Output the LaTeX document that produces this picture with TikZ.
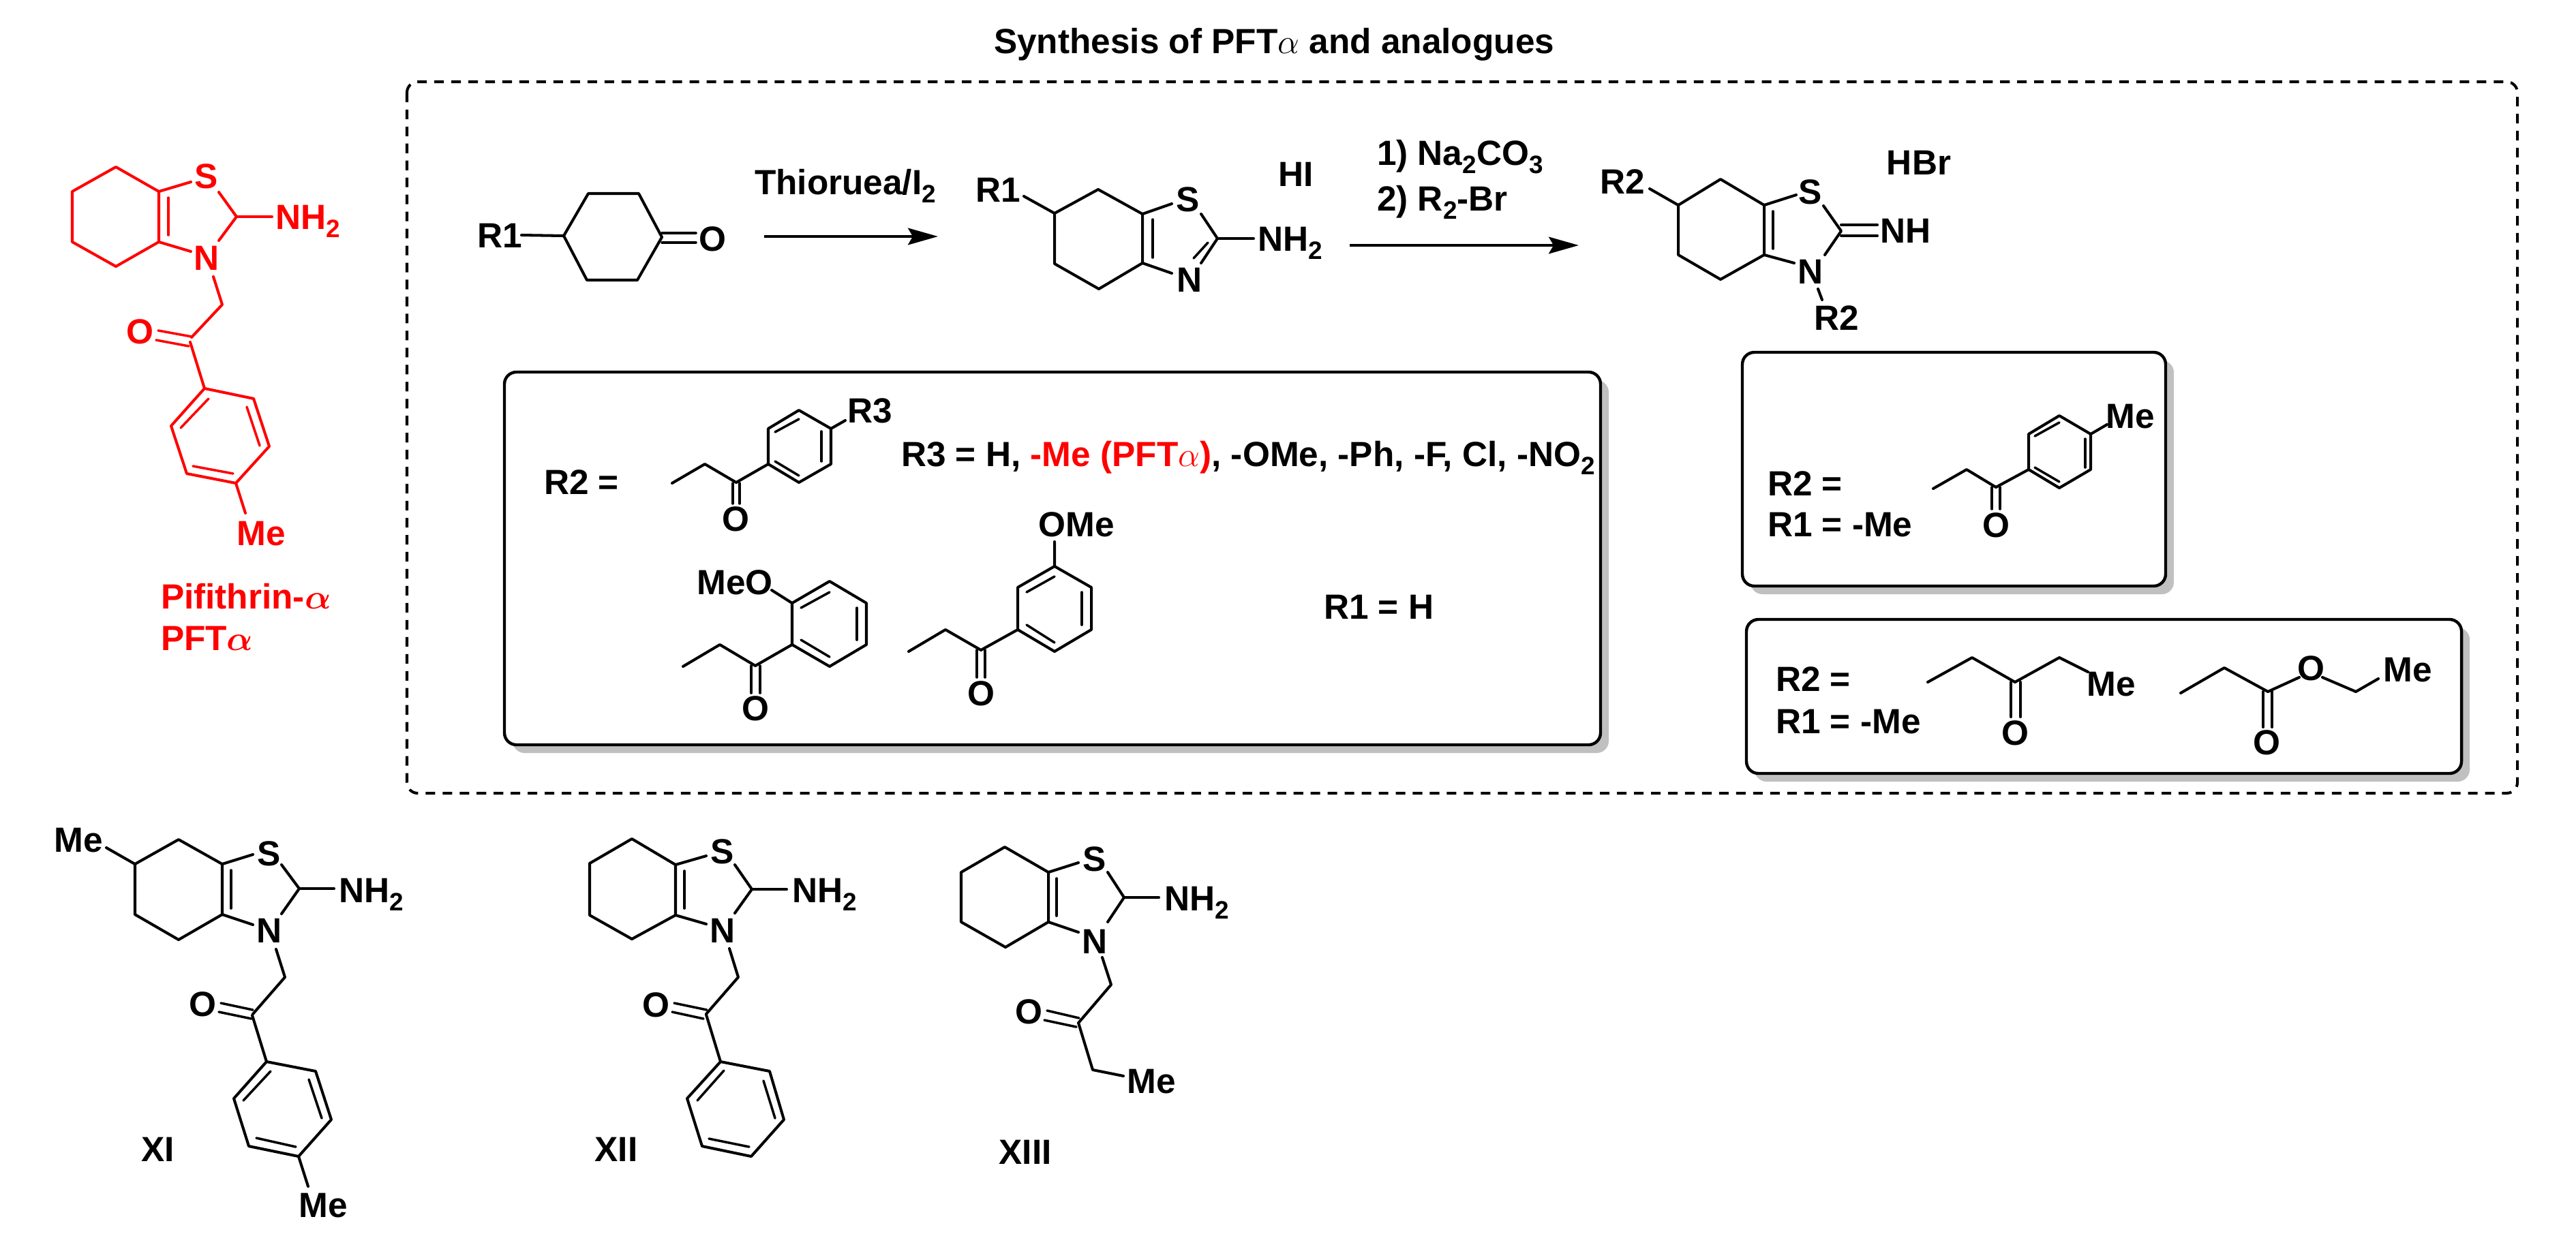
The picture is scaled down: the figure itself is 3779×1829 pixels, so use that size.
\documentclass[tikz,border=0pt]{standalone}
\usepackage{fontspec}
\setmainfont{Liberation Sans}[BoldFont={Liberation Sans Bold}]
\usetikzlibrary{arrows.meta}
\newcommand{\lowsub}[1]{\raisebox{-3.4pt}{\fontsize{10.5pt}{12pt}\selectfont #1}}
\definecolor{shadowgrey}{HTML}{C0C0C0}
\tikzset{
  bond/.style={line width=1.15pt,line join=round,line cap=round},
  inner/.style={line width=1.0pt,line cap=round},
  atom/.style={font=\fontsize{14.6pt}{17pt}\selectfont\bfseries,inner sep=0pt,outer sep=0pt,text height=10.5pt,text depth=0pt},
  lab/.style={atom,anchor=west},
  redname/.style={lab,text=red,font=\fontsize{14.6pt}{17pt}\selectfont\bfseries\boldmath},
  frame/.style={draw=black,fill=white,line width=1.25pt,rounded corners=5pt},
  shade/.style={fill=shadowgrey,rounded corners=5pt},
  rxn/.style={line width=1.2pt,-{Stealth[length=12.5pt,width=7pt,inset=2pt]}},
  dashbox/.style={draw=black,line width=1.15pt,rounded corners=4.5pt,dash pattern=on 4pt off 3.1pt},
}
\begin{document}
\begin{tikzpicture}[x=0.01cm,y=-0.01cm]
\useasboundingbox (0,0) rectangle (3779,1829);
\fill[white] (0,0) rectangle (3779,1829);

% title and dashed frame
\node[lab] (title) at (1458,60) {Synthesis of PFT$\alpha$ and analogues};
\draw[dashbox] (597,120) rectangle (3693,1164);

% boxes
\fill[shade] (752,558) rectangle (2360,1105);
\draw[frame] (740,546) rectangle (2348,1093);
\fill[shade] (2568,529) rectangle (3189,872);
\draw[frame] (2556,517) rectangle (3177,860);
\fill[shade] (2574,921) rectangle (3623,1147);
\draw[frame] (2562,909) rectangle (3611,1135);

% red molecule
\begin{scope}[red]
\draw[bond] (233,281)--(170,245)--(106,281)--(106,355)--(170,391)--(233,355)--cycle;
\draw[inner] (247,290)--(247,345);
\draw[bond] (233,281)--(280,267);
\draw[bond] (321,282)--(347,318)--(321,353);
\draw[bond] (233,355)--(280,369);
\draw[bond] (347,318)--(399,318);
\draw[bond] (313,406)--(326,447)--(281,495);
\draw[inner] (232,485)--(281,494);
\draw[inner] (229,499)--(277,508);
\draw[bond] (279,502)--(300,570);
\draw[bond] (300,570)--(372,585)--(395,655)--(346,709)--(274,695)--(251,625)--cycle;
\draw[inner] (306,585)--(265,628);
\draw[inner] (362,597)--(381,654);
\draw[inner] (283,684)--(342,695);
\draw[bond] (346,709)--(360,753);
\node[atom,text=red] (rS) at (303,258) {S};
\node[atom,text=red] (rN) at (303,378) {N};
\node[lab,text=red] (rNH) at (404,318) {NH\lowsub{2}};
\node[atom,text=red] (rO) at (205,486) {O};
\node[atom,text=red] (rMe) at (383,782) {Me};
\node[redname] (rname) at (236,875) {Pifithrin-$\alpha$};
\node[redname] (rpft) at (236,936) {PFT$\alpha$};
\end{scope}

% reaction row: cyclohexanone
\node[atom] (a1) at (733,345) {R1};
\draw[bond] (765,345)--(827,346);
\draw[bond] (827,346)--(863,284)--(937,284)--(971,348)--(935,411)--(861,411)--cycle;
\draw[inner] (971,342)--(1021,342);
\draw[inner] (971,356)--(1021,356);
\node[atom] (aO) at (1045,350) {O};
\node[lab] (thio) at (1107,267) {Thioruea/I\lowsub{2}};
\coordinate (arr1s) at (1121,347);
\coordinate (arr1e) at (1376,347);
\draw[rxn] (arr1s)--(arr1e);

% aminothiazole
\node[atom] (b1) at (1464,278) {R1};
\draw[bond] (1502,288)--(1547,313);
\draw[bond] (1547,313)--(1611,278)--(1676,314)--(1676,386)--(1612,424)--(1547,387)--cycle;
\draw[bond] (1676,314)--(1719,299);
\draw[bond] (1762,314)--(1786,350)--(1762,386);
\draw[inner] (1772,356)--(1751,379);
\draw[inner] (1691,322)--(1691,378);
\draw[bond] (1676,386)--(1719,401);
\draw[bond] (1786,350)--(1839,350);
\node[atom] (bS) at (1743,292) {S};
\node[atom] (bN) at (1745,410) {N};
\node[lab] (bNH) at (1845,350) {NH\lowsub{2}};
\node[atom] (bHI) at (1901,255) {HI};
\node[lab] (cond1) at (2020,224) {1) Na\lowsub{2}CO\lowsub{3}};
\node[lab] (cond2) at (2020,291) {2) R\lowsub{2}-Br};
\coordinate (arr2s) at (1980,360);
\coordinate (arr2e) at (2316,360);
\draw[rxn] (arr2s)--(arr2e);

% imine product
\node[atom] (c2) at (2380,266) {R2};
\draw[bond] (2420,277)--(2462,301);
\draw[bond] (2462,301)--(2524,263)--(2588,301)--(2588,374)--(2524,410)--(2462,374)--cycle;
\draw[bond] (2588,301)--(2635,286);
\draw[bond] (2675,302)--(2701,339)--(2677,374);
\draw[inner] (2601,310)--(2601,365);
\draw[bond] (2588,374)--(2632,386);
\draw[bond] (2701,330)--(2754,330);
\draw[bond] (2701,346)--(2754,346);
\draw[bond] (2667,424)--(2673,440);
\node[atom] (cS) at (2656,281) {S};
\node[atom] (cN) at (2656,398) {N};
\node[lab] (cNH) at (2758,338) {NH};
\node[atom] (cHBr) at (2815,238) {HBr};
\node[atom] (cR2) at (2694,466) {R2};

% box C
\node[lab] (cbR2) at (798,707) {R2 =};
\node[lab] (cbR3) at (1322,666) {R3 = H, {\color{red}-Me (PFT$\alpha$)}, -OMe, -Ph, -F, Cl, -NO\lowsub{2}};
\draw[bond] (986,709)--(1034,681)--(1080,708)--(1127,681)--(1127,629)--(1172,602)--(1219,629)--(1219,681)--(1172,708)--(1127,681);
\draw[bond] (1219,629)--(1240,617);
\draw[inner] (1075,709)--(1075,739);
\draw[inner] (1085,709)--(1085,739);
\draw[inner] (1137,634)--(1172,615);
\draw[inner] (1205,633)--(1205,677);
\draw[inner] (1137,677)--(1172,698);
\node[atom] (m1R3) at (1276,602) {R3};
\node[atom] (m1O) at (1079,761) {O};
% ortho-OMe
\draw[bond] (1132,866)--(1162,885);
\draw[bond] (1162,885)--(1217,853)--(1271,885)--(1271,946)--(1217,978)--(1162,946)--cycle;
\draw[bond] (1002,978)--(1056,946)--(1108,977)--(1162,946);
\draw[inner] (1175,892)--(1217,869);
\draw[inner] (1257,892)--(1257,939);
\draw[inner] (1175,939)--(1217,964);
\draw[inner] (1102,977)--(1102,1017);
\draw[inner] (1115,977)--(1115,1017);
\node[atom] (m2OMe) at (1078,854) {MeO};
\node[atom] (m2O) at (1108,1039) {O};
% meta-OMe
\draw[bond] (1547,795)--(1547,831)--(1601,862)--(1601,924)--(1547,956)--(1493,924)--(1493,862)--(1547,831);
\draw[bond] (1333,956)--(1387,924)--(1439,954)--(1493,924);
\draw[inner] (1506,869)--(1547,846);
\draw[inner] (1587,869)--(1587,917);
\draw[inner] (1506,917)--(1547,943);
\draw[inner] (1433,954)--(1433,994);
\draw[inner] (1445,954)--(1445,994);
\node[atom] (m3OMe) at (1579,769) {OMe};
\node[atom] (m3O) at (1439,1017) {O};
\node[lab] (cbR1) at (1942,890) {R1 = H};

% box A
\node[lab] (abR2) at (2593,709) {R2 =};
\node[lab] (abR1) at (2593,769) {R1 = -Me};
\draw[bond] (2836,717)--(2885,689)--(2928,715)--(2976,689)--(2976,637)--(3021,610)--(3067,637)--(3067,689)--(3021,716)--(2976,689);
\draw[bond] (3067,637)--(3091,623);
\draw[inner] (2922,715)--(2922,747);
\draw[inner] (2934,715)--(2934,747);
\draw[inner] (2985,640)--(3021,620);
\draw[inner] (3059,644)--(3059,686);
\draw[inner] (2985,686)--(3021,707);
\node[atom] (aMe) at (3125,610) {Me};
\node[atom] (aOx) at (2928,770) {O};

% box B
\node[lab] (bbR2) at (2605,996) {R2 =};
\node[lab] (bbR1) at (2605,1058) {R1 = -Me};
\draw[bond] (2828,1001)--(2893,965)--(2956,1001)--(3021,965)--(3063,986);
\draw[bond] (2950,1001)--(2950,1052);
\draw[bond] (2964,1001)--(2964,1052);
\node[atom] (kMe) at (3097,1003) {Me};
\node[atom] (kO) at (2956,1075) {O};
\draw[bond] (3199,1017)--(3263,980)--(3327,1015)--(3373,994);
\draw[bond] (3407,994)--(3456,1015)--(3489,996);
\draw[bond] (3320,1015)--(3320,1067);
\draw[bond] (3333,1015)--(3333,1067);
\node[atom] (eO1) at (3390,980) {O};
\node[atom] (eMe) at (3532,982) {Me};
\node[atom] (eO2) at (3325,1089) {O};

% XI
\draw[bond] (156,1244)--(198,1268)--(262,1232)--(326,1268)--(326,1342)--(262,1379)--(198,1342)--(198,1268);
\draw[bond] (326,1268)--(371,1254);
\draw[bond] (413,1269)--(439,1304)--(413,1341);
\draw[bond] (326,1342)--(371,1357);
\draw[inner] (339,1277)--(339,1333);
\draw[bond] (439,1304)--(490,1304);
\draw[bond] (405,1393)--(418,1434)--(371,1488);
\draw[inner] (324,1472)--(371,1482);
\draw[inner] (321,1485)--(369,1495);
\draw[bond] (370,1490)--(391,1558)--(463,1572)--(486,1643)--(438,1697)--(365,1682)--(343,1612)--(391,1558);
\draw[inner] (397,1572)--(357,1615);
\draw[inner] (453,1584)--(472,1641);
\draw[inner] (376,1670)--(434,1683);
\draw[bond] (438,1697)--(452,1741);
\node[atom] (xiMe1) at (115,1232) {Me};
\node[atom] (xiS) at (395,1252) {S};
\node[atom] (xiN) at (395,1365) {N};
\node[lab] (xiNH) at (497,1306) {NH\lowsub{2}};
\node[atom] (xiO) at (297,1473) {O};
\node[atom] (xiMe2) at (474,1768) {Me};
\node[atom] (xiL) at (232,1686) {XI};

% XII
\draw[bond] (991,1269)--(927,1231)--(865,1267)--(865,1343)--(927,1378)--(991,1343)--cycle;
\draw[bond] (991,1269)--(1036,1256);
\draw[bond] (1078,1269)--(1103,1305)--(1078,1340);
\draw[bond] (991,1343)--(1036,1356);
\draw[inner] (1004,1278)--(1004,1333);
\draw[bond] (1103,1305)--(1154,1305);
\draw[bond] (1070,1392)--(1083,1434)--(1036,1488);
\draw[inner] (989,1472)--(1037,1482);
\draw[inner] (986,1485)--(1032,1495);
\draw[bond] (1036,1489)--(1057,1558)--(1129,1572)--(1150,1643)--(1102,1697)--(1030,1682)--(1008,1612)--(1057,1558);
\draw[inner] (1062,1571)--(1023,1615);
\draw[inner] (1120,1586)--(1137,1641);
\draw[inner] (1040,1671)--(1099,1683);
\node[atom] (xiiS) at (1060,1249) {S};
\node[atom] (xiiN) at (1060,1365) {N};
\node[lab] (xiiNH) at (1162,1306) {NH\lowsub{2}};
\node[atom] (xiiO) at (962,1474) {O};
\node[atom] (xiiL) at (904,1686) {XII};

% XIII
\draw[bond] (1538,1280)--(1474,1243)--(1410,1280)--(1410,1353)--(1475,1390)--(1538,1353)--cycle;
\draw[bond] (1538,1280)--(1582,1266);
\draw[bond] (1625,1280)--(1649,1317)--(1625,1353);
\draw[bond] (1538,1353)--(1582,1368);
\draw[inner] (1550,1289)--(1550,1344);
\draw[bond] (1649,1317)--(1700,1317);
\draw[bond] (1617,1405)--(1630,1445)--(1583,1500);
\draw[inner] (1536,1483)--(1583,1494);
\draw[inner] (1532,1497)--(1579,1507);
\draw[bond] (1582,1501)--(1603,1570)--(1648,1579);
\node[atom] (xiiiS) at (1606,1260) {S};
\node[atom] (xiiiN) at (1606,1381) {N};
\node[lab] (xiiiNH) at (1708,1318) {NH\lowsub{2}};
\node[atom] (xiiiO) at (1509,1484) {O};
\node[atom] (xiiiMe) at (1689,1586) {Me};
\node[atom] (xiiiL) at (1504,1690) {XIII};
\end{tikzpicture}
\end{document}
